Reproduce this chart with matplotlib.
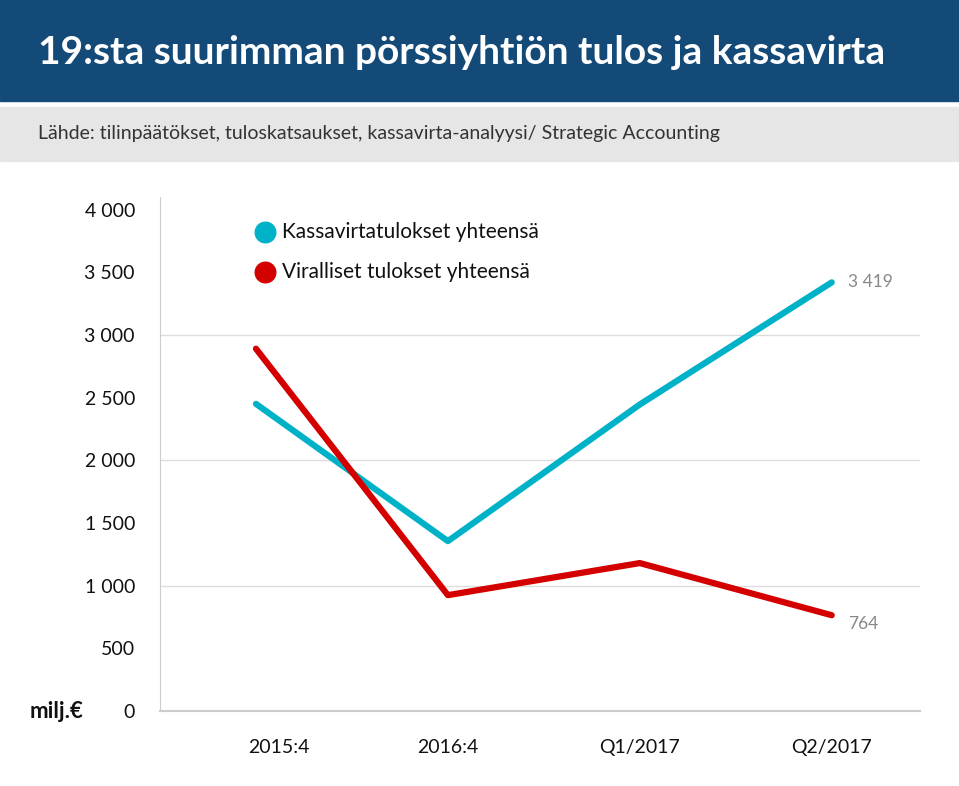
import matplotlib.pyplot as plt
import matplotlib.transforms as mtransforms
from matplotlib.patches import Rectangle

plt.rcParams['font.family'] = ['Lato', 'DejaVu Sans']

# data
periods = ['2015:4', '2016:4', 'Q1/2017', 'Q2/2017']
kassavirta = [2450, 1355, 2445, 3419]
viralliset = [2890, 924, 1180, 764]
yticks = [0, 500, 1000, 1500, 2000, 2500, 3000, 3500, 4000]

title = '19:sta suurimman pörssiyhtiön tulos ja kassavirta'
source = 'Lähde: tilinpäätökset, tuloskatsaukset, kassavirta-analyysi/ Strategic Accounting'

cyan = '#00b2c8'
red = '#d40000'

fig = plt.figure(figsize=(9.59, 7.86), dpi=100)
W, H = 959, 786

# header bands
fig.patches.append(Rectangle((0, 1 - 101 / H), 1, 101 / H, transform=fig.transFigure,
                             color='#134a78', zorder=0))
fig.patches.append(Rectangle((0, 1 - 161 / H), 1, 54 / H, transform=fig.transFigure,
                             color='#e6e6e6', zorder=0))
fig.text(38 / W, 1 - 52 / H, title, color='white', fontsize=28, fontweight='bold',
         va='center', ha='left')
fig.text(38 / W, 1 - 133 / H, source, color='#333333', fontsize=14,
         va='center', ha='left')

ax = fig.add_axes([160 / W, 1 - 711 / H, 760 / W, 514 / H])
x = list(range(len(periods)))
ax.plot(x, kassavirta, color=cyan, lw=4.5, solid_capstyle='round', zorder=3)
ax.plot(x, viralliset, color=red, lw=4.5, solid_capstyle='round', zorder=3)

ax.set_xlim(-0.5, 3.46)
ax.set_ylim(0, 4100)

for g in [1000, 2000, 3000]:
    ax.axhline(g, color='#dddddd', lw=1, zorder=1)

for s in ['top', 'right']:
    ax.spines[s].set_visible(False)
ax.spines['left'].set_color('#cccccc')
ax.spines['bottom'].set_color('#cccccc')
ax.spines['bottom'].set_linewidth(1.5)

ax.set_yticks(yticks)
ax.set_yticklabels([f'{v:,}'.replace(',', ' ') for v in yticks])
ax.set_xticks(x)
ax.set_xticklabels(periods)
ax.tick_params(axis='both', length=0, labelsize=14, colors='#111111')
ax.tick_params(axis='y', pad=18)
ax.tick_params(axis='x', pad=20)

# first category label sits a bit right of its point in the original
lbl = ax.get_xticklabels()[0]
lbl.set_transform(lbl.get_transform() +
                  mtransforms.ScaledTranslation(23 / 100, 0, fig.dpi_scale_trans))

# end labels
ax.annotate(f'{kassavirta[-1]:,}'.replace(',', ' '), (x[-1], kassavirta[-1]),
            xytext=(12, 0), textcoords='offset points', va='center',
            color='#888888', fontsize=12.5)
ax.annotate(str(viralliset[-1]), (x[-1], viralliset[-1]),
            xytext=(12, -6), textcoords='offset points', va='center',
            color='#888888', fontsize=12.5)

# legend
ax.scatter([0.138], [0.932], s=220, color=cyan, transform=ax.transAxes, clip_on=False)
ax.scatter([0.138], [0.854], s=220, color=red, transform=ax.transAxes, clip_on=False)
ax.text(0.160, 0.932, 'Kassavirtatulokset yhteensä', transform=ax.transAxes,
        va='center', fontsize=15, color='#111111')
ax.text(0.160, 0.854, 'Viralliset tulokset yhteensä', transform=ax.transAxes,
        va='center', fontsize=15, color='#111111')

fig.text(30 / W, 1 - 712 / H, 'milj.€', fontsize=16, fontweight='bold',
         va='center', ha='left', color='#111111')

fig.savefig('out.png', dpi=100)
